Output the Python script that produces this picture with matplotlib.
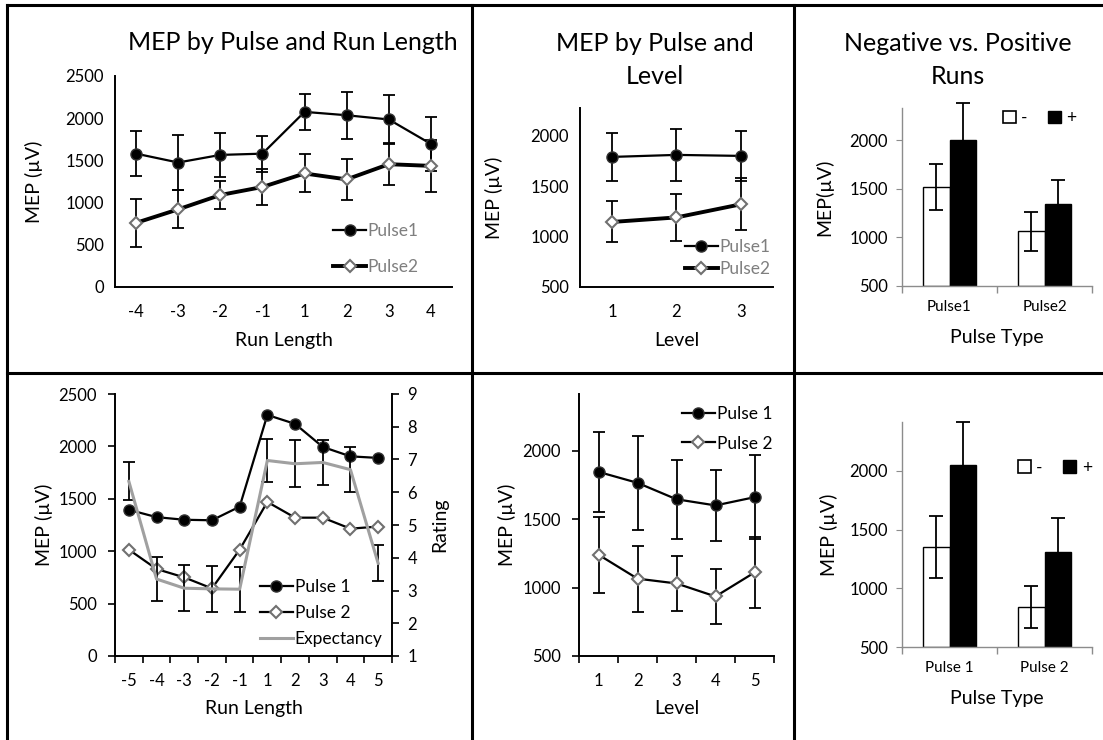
import numpy as np
import matplotlib
matplotlib.use("Agg")
import matplotlib.pyplot as plt
from matplotlib.lines import Line2D
from matplotlib.patches import Patch

plt.rcParams.update({"font.family": ["Lato", "DejaVu Sans"], "font.size": 12})

# ---- data ----
tl_runs = ["-4", "-3", "-2", "-1", "1", "2", "3", "4"]
tl_p1 = [1580, 1475, 1565, 1580, 2075, 2035, 1985, 1695]
tl_p1_err = [270, 330, 260, 215, 210, 280, 285, 325]
tl_p2 = [760, 920, 1090, 1185, 1345, 1275, 1455, 1435]
tl_p2_err = [285, 225, 160, 210, 225, 245, 250, 310]

tm_levels = ["1", "2", "3"]
tm_p1 = [1790, 1810, 1800]
tm_p1_err = [240, 255, 250]
tm_p2 = [1145, 1190, 1320]
tm_p2_err = [203, 235, 257]

tr_pulses = ["Pulse1", "Pulse2"]
tr_neg = [1520, 1065]
tr_neg_err = [235, 200]
tr_pos = [2005, 1340]
tr_pos_err = [380, 255]

bl_runs = ["-5", "-4", "-3", "-2", "-1", "1", "2", "3", "4", "5"]
bl_p1 = [1395, 1325, 1300, 1295, 1425, 2300, 2215, 1995, 1905, 1890]
bl_p2 = [1015, 830, 750, 645, 1015, 1470, 1320, 1320, 1215, 1235]
bl_exp = [6.33, 3.35, 3.07, 3.05, 3.04, 6.97, 6.87, 6.91, 6.69, 3.83]
bl_exp_err = [0.58, 0.66, 0.70, 0.70, 0.69, 0.67, 0.72, 0.70, 0.68, 0.55]

bm_levels = ["1", "2", "3", "4", "5"]
bm_p1 = [1845, 1765, 1645, 1600, 1660]
bm_p1_err = [292, 342, 290, 260, 305]
bm_p2 = [1240, 1065, 1030, 935, 1110]
bm_p2_err = [278, 241, 200, 200, 256]

br_pulses = ["Pulse 1", "Pulse 2"]
br_neg = [1350, 840]
br_neg_err = [262, 176]
br_pos = [2050, 1305]
br_pos_err = [362, 295]

W, H = 1103, 740
GRAY_TXT = "#7f7f7f"
AXGRAY = "#8c8c8c"
TICK_FS = 12
LAB_FS = 14
TITLE_FS = 18
LEG_FS = 12.5

fig = plt.figure(figsize=(W / 100, H / 100), dpi=100)


def add_ax(left, top, right, bottom):
    return fig.add_axes([left / W, 1 - bottom / H, (right - left) / W, (bottom - top) / H])


def cat_axis(ax, labels, boundary_ticks):
    n = len(labels)
    ax.set_xlim(-0.5, n - 0.5)
    ax.set_xticks(range(n))
    ax.set_xticklabels(labels)
    ax.tick_params(axis="x", which="major", length=0, pad=12, labelsize=TICK_FS)
    if boundary_ticks:
        ax.set_xticks(np.arange(n + 1) - 0.5, minor=True)
        ax.tick_params(axis="x", which="minor", length=5, direction="out", width=1.2)


def line_spines(ax, yticks):
    for s in ["top", "right"]:
        ax.spines[s].set_visible(False)
    for s in ["left", "bottom"]:
        ax.spines[s].set_linewidth(1.4)
    ax.tick_params(axis="y", labelsize=TICK_FS, pad=8,
                   length=5 if yticks else 0, width=1.2)


def errbars(ax, x, y, err, cap=4, z=2):
    eb = ax.errorbar(x, y, yerr=err, fmt="none", ecolor="black", elinewidth=1.3,
                     capsize=cap, capthick=1.3, zorder=z)
    for art in list(eb.lines[1]) + list(eb.lines[2]):
        art.set_clip_on(False)
    return eb


def pulse_lines(ax, x, p1, e1, p2, e2, thick2):
    if e1 is not None:
        errbars(ax, x, p1, e1)
        errbars(ax, x, p2, e2)
    l1, = ax.plot(x, p1, "-o", color="black", lw=1.6, ms=8, mfc="black",
                  mec="#333333", zorder=3)
    l2, = ax.plot(x, p2, "-D", color="black", lw=2.8 if thick2 else 1.6,
                  ms=6, mfc="white", mec="#707070", mew=1.5, zorder=3)
    return l1, l2


def leg_at(ax, handles, labels, fx, fy, spacing, loc="center left", gray=False, hl=1.9):
    leg = ax.legend(handles, labels, loc=loc, bbox_to_anchor=(fx, fy), frameon=False,
                    fontsize=LEG_FS, handlelength=hl, handletextpad=0.1,
                    labelspacing=spacing, numpoints=1, borderaxespad=0, borderpad=0)
    if gray:
        for t in leg.get_texts():
            t.set_color(GRAY_TXT)
    return leg


def bar_chart(ax, labels, neg, neg_err, pos, pos_err, ylim, ylab, ylpad):
    x = np.arange(len(labels))
    w = 0.28
    base = ylim[0]
    ax.bar(x - w / 2, np.array(neg) - base, width=w, bottom=base, color="white",
           edgecolor="black", lw=1.0, zorder=2)
    ax.bar(x + w / 2, np.array(pos) - base, width=w, bottom=base, color="black",
           edgecolor="black", lw=1.0, zorder=2)
    errbars(ax, x - w / 2, neg, neg_err, cap=5, z=3)
    errbars(ax, x + w / 2, pos, pos_err, cap=5, z=3)
    ax.set_ylim(*ylim)
    ax.set_yticks([500, 1000, 1500, 2000])
    cat_axis(ax, labels, True)
    ax.tick_params(axis="x", which="major", labelsize=11, pad=10)
    ax.tick_params(axis="x", which="minor", color=AXGRAY, width=1.0)
    ax.tick_params(axis="y", labelsize=TICK_FS, pad=6, length=4, color=AXGRAY)
    for s in ["top", "right"]:
        ax.spines[s].set_visible(False)
    for s in ["left", "bottom"]:
        ax.spines[s].set_color(AXGRAY)
        ax.spines[s].set_linewidth(1.0)
    ax.set_xlabel("Pulse Type", fontsize=LAB_FS, labelpad=11)
    ax.set_ylabel(ylab, fontsize=LAB_FS, labelpad=ylpad)
    handles = [Patch(facecolor="white", edgecolor="black", lw=1.2),
               Patch(facecolor="black", edgecolor="black")]
    return handles


def bar_legend(ax, handles, fx, fy):
    ax.legend(handles, ["-", "+"], ncol=2, loc="center left", bbox_to_anchor=(fx, fy),
              frameon=False, fontsize=LEG_FS, handlelength=0.75, handleheight=0.75,
              handletextpad=0.3, columnspacing=1.2, borderaxespad=0, borderpad=0)


# ---- panel grid lines ----
for (x0, y0, x1, y1) in [(7, 5, 1103, 5), (7, 5, 7, 740), (472, 5, 472, 740),
                         (794, 5, 794, 740), (7, 373, 1103, 373)]:
    fig.add_artist(Line2D([x0 / W, x1 / W], [1 - y0 / H, 1 - y1 / H],
                          transform=fig.transFigure, color="black", lw=2.2))

# ---- top-left ----
ax = add_ax(115, 76, 452, 287)
x = np.arange(len(tl_runs))
l1, l2 = pulse_lines(ax, x, tl_p1, tl_p1_err, tl_p2, tl_p2_err, True)
ax.set_ylim(0, 2500)
ax.set_yticks(range(0, 2501, 500))
cat_axis(ax, tl_runs, False)
line_spines(ax, False)
ax.set_xlabel("Run Length", fontsize=LAB_FS, labelpad=9)
ax.set_ylabel("MEP (µV)", fontsize=LAB_FS, labelpad=16)
leg_at(ax, [l1, l2], ["Pulse1", "Pulse2"], 0.647, 0.182, 1.15, gray=True)
fig.text(293 / W, 1 - 43 / H, "MEP by Pulse and Run Length", ha="center", va="center",
         fontsize=TITLE_FS)

# ---- top-middle ----
ax = add_ax(580, 108, 773, 287)
x = np.arange(len(tm_levels))
l1, l2 = pulse_lines(ax, x, tm_p1, tm_p1_err, tm_p2, tm_p2_err, True)
ax.set_ylim(500, 2275)
ax.set_yticks([500, 1000, 1500, 2000])
cat_axis(ax, tm_levels, False)
line_spines(ax, False)
ax.set_xlabel("Level", fontsize=LAB_FS, labelpad=9)
ax.set_ylabel("MEP (µV)", fontsize=LAB_FS, labelpad=20)
leg_at(ax, [l1, l2], ["Pulse1", "Pulse2"], 0.544, 0.162, 0.3, gray=True)
fig.text(655 / W, 1 - 60 / H, "MEP by Pulse and\nLevel", ha="center", va="center",
         fontsize=TITLE_FS, linespacing=1.5)

# ---- top-right ----
ax = add_ax(902, 108, 1092, 286)
hs = bar_chart(ax, tr_pulses, tr_neg, tr_neg_err, tr_pos, tr_pos_err, (500, 2334),
               "MEP(µV)", 12)
bar_legend(ax, hs, 0.53, 0.944)
fig.text(958 / W, 1 - 60 / H, "Negative vs. Positive\nRuns", ha="center", va="center",
         fontsize=TITLE_FS, linespacing=1.5)

# ---- bottom-left ----
ax = add_ax(115, 394, 392, 656)
x = np.arange(len(bl_runs))
l1, l2 = pulse_lines(ax, x, bl_p1, None, bl_p2, None, False)
ax.set_ylim(0, 2500)
ax.set_yticks(range(0, 2501, 500))
cat_axis(ax, bl_runs, True)
line_spines(ax, True)
ax.set_xlabel("Run Length", fontsize=LAB_FS, labelpad=8)
ax.set_ylabel("MEP (µV)", fontsize=LAB_FS, labelpad=4)
ax2 = ax.twinx()
errbars(ax2, x, bl_exp, bl_exp_err)
l3, = ax2.plot(x, bl_exp, "-", color="#a0a0a0", lw=2.2, zorder=3)
ax2.set_ylim(1, 9)
ax2.set_yticks(range(1, 10))
for s in ["top", "left", "bottom"]:
    ax2.spines[s].set_visible(False)
ax2.spines["right"].set_linewidth(1.4)
ax2.tick_params(axis="y", labelsize=TICK_FS, pad=6, length=5, width=1.2)
ax2.set_ylabel("Rating", fontsize=LAB_FS, labelpad=10)
leg_at(ax2, [l1, l2, l3], ["Pulse 1", "Pulse 2", "Expectancy"], 0.523, 0.164, 0.6)

# ---- bottom-middle ----
ax = add_ax(579, 394, 774, 656)
x = np.arange(len(bm_levels))
l1, l2 = pulse_lines(ax, x, bm_p1, bm_p1_err, bm_p2, bm_p2_err, False)
ax.set_ylim(500, 2414)
ax.set_yticks([500, 1000, 1500, 2000])
cat_axis(ax, bm_levels, True)
line_spines(ax, True)
ax.set_xlabel("Level", fontsize=LAB_FS, labelpad=8)
ax.set_ylabel("MEP (µV)", fontsize=LAB_FS, labelpad=5)
leg_at(ax, [l1, l2], ["Pulse 1", "Pulse 2"], 0.528, 0.868, 0.8)

# ---- bottom-right ----
ax = add_ax(902, 422, 1092, 647)
hs = bar_chart(ax, br_pulses, br_neg, br_neg_err, br_pos, br_pos_err, (500, 2415),
               "MEP (µV)", 8)
bar_legend(ax, hs, 0.61, 0.796)

fig.savefig("out.png", dpi=100, facecolor="white")
